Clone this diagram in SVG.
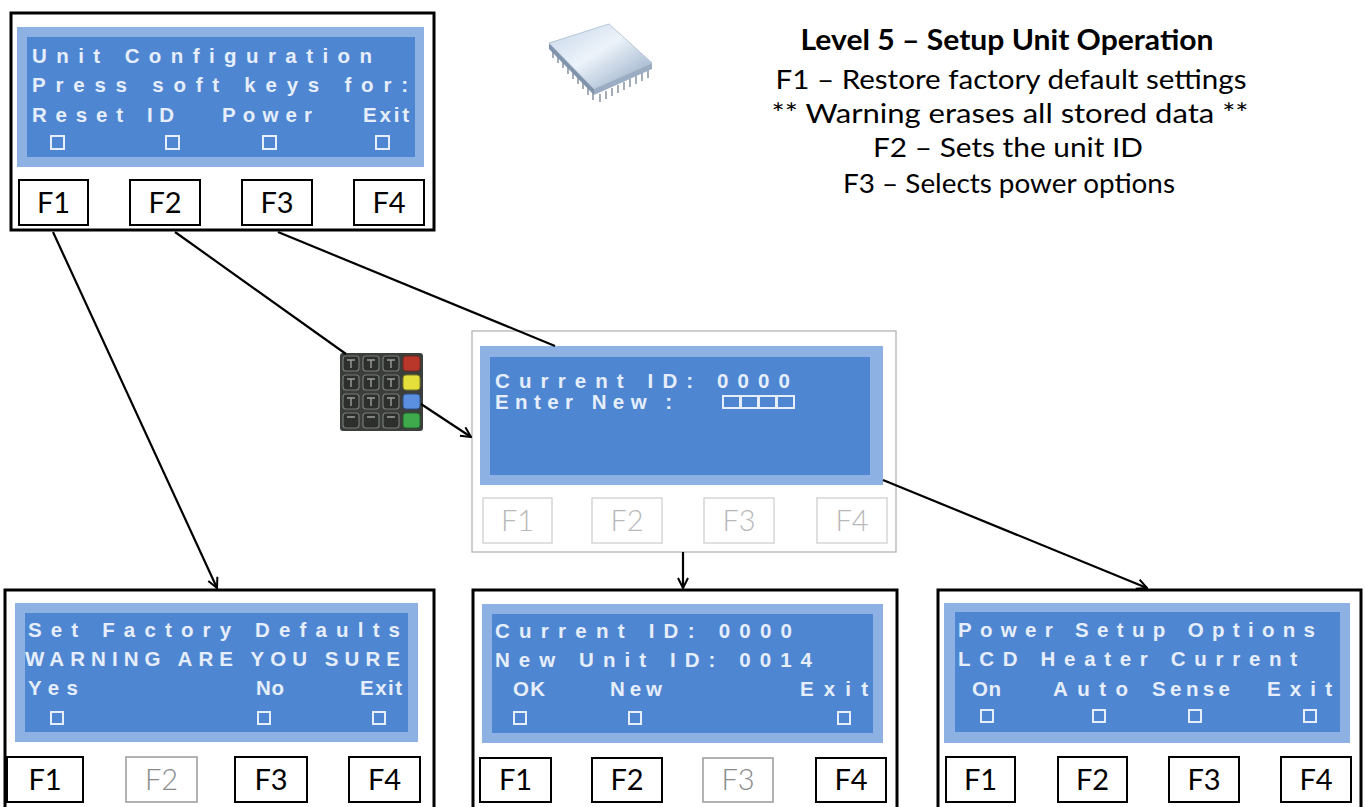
<svg xmlns="http://www.w3.org/2000/svg" width="1365" height="807" viewBox="0 0 1365 807">
  <defs>
    <style>
      .panel { fill: #ffffff; stroke: #000000; stroke-width: 3; }
      .panel-dim { fill: #ffffff; stroke: #b4b4b4; stroke-width: 1.3; }
      .band { fill: #8cb1e2; }
      .screen { fill: #4f86d2; }
      .lcd { font-family: "Liberation Sans", Arial, sans-serif; font-weight: bold; font-size: 20.5px; fill: #e6eefb; }
      .box { fill: none; stroke: #e6eefb; stroke-width: 2; }
      .key { fill: #ffffff; stroke: #000000; stroke-width: 2; }
      .key-off { fill: #ffffff; stroke: #9a9a9a; stroke-width: 1.5; }
      .key-dim { fill: #ffffff; stroke: #cfcfcf; stroke-width: 1.3; }
      .klabel { font-family: Lato, "Open Sans", sans-serif; font-size: 29px; fill: #000000; text-anchor: middle; }
      .klabel-off { font-family: Lato, "Open Sans", sans-serif; font-size: 29px; font-weight: 300; fill: #8a8a8a; text-anchor: middle; }
      .klabel-dim { font-family: Lato, "Open Sans", sans-serif; font-size: 29px; font-weight: 300; fill: #b8b8b8; text-anchor: middle; }
      .note { font-family: Lato, "Open Sans", sans-serif; font-size: 26.5px; fill: #000000; text-anchor: middle; }
      .title { font-family: Lato, "Open Sans", sans-serif; font-size: 28px; font-weight: bold; fill: #000000; text-anchor: middle; }
      .wire { fill: none; stroke: #000000; stroke-width: 2.2; }
      .pin { stroke: #8e99a6; stroke-width: 1.6; }
      .pad { fill: #2c2f2c; stroke: #767b76; stroke-width: 1.2; }
    </style>
    <marker id="arrow" viewBox="0 0 12 12" refX="11" refY="6" markerWidth="12" markerHeight="12" markerUnits="userSpaceOnUse" orient="auto">
      <path d="M1,1 L11,6 L1,11" fill="none" stroke="#000000" stroke-width="2"/>
    </marker>
    <linearGradient id="chipTop" x1="0" y1="0" x2="1" y2="1">
      <stop offset="0" stop-color="#c4d5e8"/>
      <stop offset="0.45" stop-color="#edf3fa"/>
      <stop offset="1" stop-color="#8aa3c0"/>
    </linearGradient>
  </defs>

  <!-- Level 5 description -->
  <g id="legend">
    <text class="title" x="1007" y="50" textLength="413" lengthAdjust="spacingAndGlyphs">Level 5 – Setup Unit Operation</text>
    <text class="note" x="1011" y="89" textLength="471" lengthAdjust="spacingAndGlyphs">F1 – Restore factory default settings</text>
    <text class="note" x="1010" y="123" textLength="477" lengthAdjust="spacingAndGlyphs">** Warning erases all stored data **</text>
    <text class="note" x="1008" y="157" textLength="270" lengthAdjust="spacingAndGlyphs">F2 – Sets the unit ID</text>
    <text class="note" x="1009" y="193" textLength="332" lengthAdjust="spacingAndGlyphs">F3 – Selects power options</text>
  </g>

  <!-- Processor chip icon -->
  <g id="chip">
    <g class="pin">
      <line x1="553" y1="50" x2="553" y2="58"/><line x1="558" y1="55" x2="558" y2="63"/>
      <line x1="563" y1="60" x2="563" y2="68"/><line x1="568" y1="66" x2="568" y2="74"/>
      <line x1="573" y1="71" x2="573" y2="79"/><line x1="578" y1="76" x2="578" y2="84"/>
      <line x1="583" y1="81" x2="583" y2="89"/><line x1="588" y1="87" x2="588" y2="95"/>
      <line x1="593" y1="92" x2="593" y2="100"/>
      <line x1="600" y1="94" x2="600" y2="102"/><line x1="606" y1="91" x2="606" y2="99"/>
      <line x1="612" y1="88" x2="612" y2="96"/><line x1="618" y1="85" x2="618" y2="93"/>
      <line x1="624" y1="82" x2="624" y2="90"/><line x1="630" y1="79" x2="630" y2="87"/>
      <line x1="636" y1="76" x2="636" y2="84"/><line x1="642" y1="73" x2="642" y2="81"/>
      <line x1="648" y1="70" x2="648" y2="78"/>
    </g>
    <polygon points="549,43 594,89 594,95 549,49" fill="#7f93aa"/>
    <polygon points="594,89 652,63 652,69 594,95" fill="#9aadc2"/>
    <polygon points="549,43 609,24 652,63 594,89" fill="url(#chipTop)" stroke="#a9bacb" stroke-width="0.8"/>
  </g>

  <!-- Keypad icon -->
  <g id="keypad">
    <rect x="340" y="353" width="83" height="78" rx="3" fill="#3b3e3b"/>
    <g class="pad">
      <rect x="343" y="356" width="16" height="15" rx="3"/><rect x="363" y="356" width="16" height="15" rx="3"/><rect x="383" y="356" width="16" height="15" rx="3"/>
      <rect x="343" y="375" width="16" height="15" rx="3"/><rect x="363" y="375" width="16" height="15" rx="3"/><rect x="383" y="375" width="16" height="15" rx="3"/>
      <rect x="343" y="394" width="16" height="15" rx="3"/><rect x="363" y="394" width="16" height="15" rx="3"/><rect x="383" y="394" width="16" height="15" rx="3"/>
      <rect x="343" y="413" width="16" height="15" rx="3"/><rect x="363" y="413" width="16" height="15" rx="3"/><rect x="383" y="413" width="16" height="15" rx="3"/>
    </g>
    <g stroke="#9aa09a" stroke-width="1.4">
      <path d="M347,360 h8 M351,360 v8 M367,360 h8 M371,360 v8 M387,360 h8 M391,360 v8"/>
      <path d="M347,379 h8 M351,379 v8 M367,379 h8 M371,379 v8 M387,379 h8 M391,379 v8"/>
      <path d="M347,398 h8 M351,398 v8 M367,398 h8 M371,398 v8 M387,398 h8 M391,398 v8"/>
      <path d="M347,417 h8 M367,417 h8 M387,417 h8"/>
    </g>
    <rect x="403" y="356" width="17" height="15" rx="3" fill="#b8362a" stroke="#6e2a22" stroke-width="1"/>
    <rect x="403" y="375" width="17" height="15" rx="3" fill="#e4df3a" stroke="#7a7a28" stroke-width="1"/>
    <rect x="403" y="394" width="17" height="15" rx="3" fill="#5b8fe0" stroke="#2f4f80" stroke-width="1"/>
    <rect x="403" y="413" width="17" height="15" rx="3" fill="#3faa4c" stroke="#245f2c" stroke-width="1"/>
  </g>

  <!-- Unit configuration menu -->
  <g id="menu-unit-config">
    <rect class="panel" x="11" y="13" width="423" height="217"/>
    <rect class="band" x="17" y="27" width="407" height="140"/>
    <rect class="screen" x="27" y="37" width="388" height="120"/>
    <text class="lcd" x="32" y="63" textLength="340" lengthAdjust="spacing">Unit Configuration</text>
    <text class="lcd" x="32" y="92" textLength="376" lengthAdjust="spacing">Press soft keys for:</text>
    <text class="lcd" x="32" y="122" textLength="91" lengthAdjust="spacing">Reset</text>
    <text class="lcd" x="147" y="122" textLength="27" lengthAdjust="spacing">ID</text>
    <text class="lcd" x="222" y="122" textLength="90" lengthAdjust="spacing">Power</text>
    <text class="lcd" x="363" y="122" textLength="46" lengthAdjust="spacing">Exit</text>
    <rect class="box" x="51" y="136" width="13" height="13"/>
    <rect class="box" x="166" y="136" width="13" height="13"/>
    <rect class="box" x="263" y="136" width="13" height="13"/>
    <rect class="box" x="376" y="136" width="13" height="13"/>
    <rect class="key" x="19" y="180" width="69" height="45"/><text class="klabel" x="53.5" y="213">F1</text>
    <rect class="key" x="130" y="180" width="70" height="45"/><text class="klabel" x="165" y="213">F2</text>
    <rect class="key" x="242" y="180" width="70" height="45"/><text class="klabel" x="277" y="213">F3</text>
    <rect class="key" x="354" y="180" width="70" height="45"/><text class="klabel" x="389" y="213">F4</text>
  </g>

  <!-- ID entry screen -->
  <g id="menu-enter-id">
    <rect class="panel-dim" x="472" y="331" width="424" height="221"/>
    <rect class="band" x="480" y="346" width="403" height="139"/>
    <rect class="screen" x="490" y="357" width="380" height="118"/>
    <text class="lcd" x="495" y="388" textLength="295" lengthAdjust="spacing">Current ID: 0000</text>
    <text class="lcd" x="495" y="409" textLength="177" lengthAdjust="spacing">Enter New :</text>
    <rect class="box" x="723" y="396" width="17" height="12"/>
    <rect class="box" x="741" y="396" width="17" height="12"/>
    <rect class="box" x="759" y="396" width="17" height="12"/>
    <rect class="box" x="777" y="396" width="17" height="12"/>
    <rect class="key-dim" x="483" y="498" width="69" height="45"/><text class="klabel-dim" x="517.5" y="531">F1</text>
    <rect class="key-dim" x="592" y="498" width="70" height="45"/><text class="klabel-dim" x="627" y="531">F2</text>
    <rect class="key-dim" x="704" y="498" width="70" height="45"/><text class="klabel-dim" x="739" y="531">F3</text>
    <rect class="key-dim" x="817" y="498" width="70" height="45"/><text class="klabel-dim" x="852" y="531">F4</text>
  </g>

  <!-- Factory defaults screen -->
  <g id="menu-factory-defaults">
    <rect class="panel" x="5" y="590" width="429" height="230"/>
    <rect class="band" x="15" y="603" width="403" height="139"/>
    <rect class="screen" x="25" y="613" width="383" height="119"/>
    <text class="lcd" x="28" y="637" textLength="372" lengthAdjust="spacing">Set Factory Defaults</text>
    <text class="lcd" x="25" y="666" textLength="375" lengthAdjust="spacing">WARNING ARE YOU SURE</text>
    <text class="lcd" x="28" y="695" textLength="50" lengthAdjust="spacing">Yes</text>
    <text class="lcd" x="256" y="695" textLength="28" lengthAdjust="spacing">No</text>
    <text class="lcd" x="360" y="695" textLength="42" lengthAdjust="spacing">Exit</text>
    <rect class="box" x="51" y="712" width="12" height="12"/>
    <rect class="box" x="258" y="712" width="12" height="12"/>
    <rect class="box" x="373" y="712" width="12" height="12"/>
    <rect class="key" x="7" y="757" width="76" height="45"/><text class="klabel" x="45" y="790">F1</text>
    <rect class="key-off" x="126" y="757" width="71" height="45"/><text class="klabel-off" x="161.5" y="790">F2</text>
    <rect class="key" x="235" y="757" width="72" height="45"/><text class="klabel" x="271" y="790">F3</text>
    <rect class="key" x="349" y="757" width="71" height="45"/><text class="klabel" x="384.5" y="790">F4</text>
  </g>

  <!-- New unit ID confirmation screen -->
  <g id="menu-new-id">
    <rect class="panel" x="473" y="590" width="424" height="230"/>
    <rect class="band" x="482" y="604" width="401" height="139"/>
    <rect class="screen" x="492" y="614" width="381" height="119"/>
    <text class="lcd" x="495" y="638" textLength="297" lengthAdjust="spacing">Current ID: 0000</text>
    <text class="lcd" x="495" y="667" textLength="317" lengthAdjust="spacing">New Unit ID: 0014</text>
    <text class="lcd" x="513" y="696" textLength="32" lengthAdjust="spacing">OK</text>
    <text class="lcd" x="610" y="696" textLength="52" lengthAdjust="spacing">New</text>
    <text class="lcd" x="800" y="696" textLength="68" lengthAdjust="spacing">Exit</text>
    <rect class="box" x="514" y="712" width="12" height="12"/>
    <rect class="box" x="629" y="712" width="12" height="12"/>
    <rect class="box" x="838" y="712" width="12" height="12"/>
    <rect class="key" x="480" y="758" width="71" height="44"/><text class="klabel" x="515.5" y="790">F1</text>
    <rect class="key" x="592" y="758" width="70" height="44"/><text class="klabel" x="627" y="790">F2</text>
    <rect class="key-off" x="703" y="758" width="70" height="44"/><text class="klabel-off" x="738" y="790">F3</text>
    <rect class="key" x="816" y="758" width="70" height="44"/><text class="klabel" x="851" y="790">F4</text>
  </g>

  <!-- Power setup screen -->
  <g id="menu-power-setup">
    <rect class="panel" x="938" y="590" width="423" height="230"/>
    <rect class="band" x="944" y="603" width="406" height="140"/>
    <rect class="screen" x="955" y="612" width="385" height="120"/>
    <text class="lcd" x="958" y="637" textLength="357" lengthAdjust="spacing">Power Setup Options</text>
    <text class="lcd" x="958" y="666" textLength="339" lengthAdjust="spacing">LCD Heater Current</text>
    <text class="lcd" x="972" y="696" textLength="29" lengthAdjust="spacing">On</text>
    <text class="lcd" x="1053" y="696" textLength="75" lengthAdjust="spacing">Auto</text>
    <text class="lcd" x="1152" y="696" textLength="78" lengthAdjust="spacing">Sense</text>
    <text class="lcd" x="1267" y="696" textLength="65" lengthAdjust="spacing">Exit</text>
    <rect class="box" x="981" y="710" width="12" height="12"/>
    <rect class="box" x="1093" y="710" width="12" height="12"/>
    <rect class="box" x="1189" y="710" width="12" height="12"/>
    <rect class="box" x="1304" y="710" width="12" height="12"/>
    <rect class="key" x="946" y="757" width="69" height="45"/><text class="klabel" x="980.5" y="790">F1</text>
    <rect class="key" x="1058" y="757" width="69" height="45"/><text class="klabel" x="1092.5" y="790">F2</text>
    <rect class="key" x="1169" y="757" width="70" height="45"/><text class="klabel" x="1204" y="790">F3</text>
    <rect class="key" x="1281" y="757" width="70" height="45"/><text class="klabel" x="1316" y="790">F4</text>
  </g>

  <!-- Connectors -->
  <g id="connectors">
    <line class="wire" x1="53" y1="232" x2="217" y2="588" marker-end="url(#arrow)"/>
    <line class="wire" x1="175" y1="232" x2="346" y2="354"/>
    <line class="wire" x1="278" y1="232" x2="555" y2="346"/>
    <line class="wire" x1="421" y1="404" x2="471" y2="437" marker-end="url(#arrow)"/>
    <line class="wire" x1="883" y1="480" x2="1147" y2="588" marker-end="url(#arrow)"/>
    <line class="wire" x1="683" y1="552" x2="683" y2="588" marker-end="url(#arrow)"/>
  </g>
</svg>
